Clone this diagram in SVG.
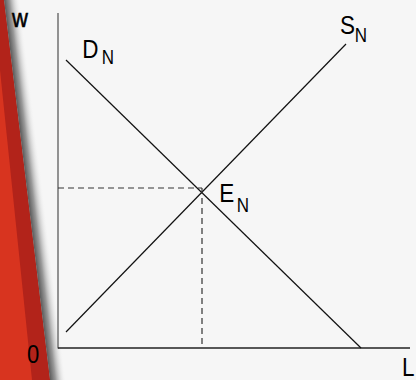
<svg xmlns="http://www.w3.org/2000/svg" width="416" height="380" viewBox="0 0 416 380">
<defs>
<linearGradient id="shadow" gradientUnits="userSpaceOnUse" x1="4" y1="0" x2="20" y2="0" gradientTransform="skewX(6.9)">
<stop offset="0" stop-color="#5a5a5a"/>
<stop offset="0.35" stop-color="#9a9a9a"/>
<stop offset="1" stop-color="#f6f6f6" stop-opacity="0"/>
</linearGradient>
<style>
.t{font-family:"Liberation Sans",Arial,sans-serif;fill:#000}
.big{font-size:22.5px}
.sub{font-size:17px}
.curve{stroke:#111;stroke-width:1.2;fill:none}
.dash{stroke:#333;stroke-width:1.2;stroke-dasharray:6 4;fill:none}
</style>
</defs>
<rect width="416" height="380" fill="#f6f6f6"/>
<polygon points="0,0 4,0 50,380 0,380" fill="#d8341f"/>
<polygon points="0,0 4,0 50,380 32,380 0,70" fill="#b2231a"/>
<polygon points="4,0 24,0 70,380 50,380" fill="url(#shadow)"/>
<g id="axes">
<line x1="58" y1="13" x2="58" y2="348.5" stroke="#707070" stroke-width="1.5"/>
<line x1="58" y1="348" x2="410" y2="348" stroke="#222" stroke-width="1.3"/>
</g>
<g id="connectors">
<line id="demand" class="curve" x1="66" y1="60" x2="361" y2="348"/>
<line id="supply" class="curve" x1="66" y1="332" x2="346" y2="44"/>
<line class="dash" x1="58" y1="188" x2="202" y2="188"/>
<line class="dash" x1="202" y1="188" x2="202" y2="348"/>
</g>
<g id="label-w"><text class="t" font-size="22" stroke="#000" stroke-width="0.5" transform="translate(12,27) scale(1,1.2)">w</text></g>
<g id="label-0"><text class="t" font-size="22" transform="translate(27,363) scale(1,1.2)">0</text></g>
<g id="label-L"><text class="t big" transform="translate(402,376) scale(1,1.12)">L</text></g>
<g id="node-DN"><text class="t big" transform="translate(82.3,58) scale(1,1.12)">D</text><text class="t sub" transform="translate(101.7,64) scale(1,1.15)">N</text></g>
<g id="node-SN"><text class="t big" transform="translate(340,34) scale(1,1.12)">S</text><text class="t sub" transform="translate(354.7,42) scale(1,1.15)">N</text></g>
<g id="node-EN"><text class="t big" transform="translate(219.2,202) scale(1,1.12)">E</text><text class="t sub" transform="translate(236.7,212) scale(1,1.15)">N</text></g>
</svg>
